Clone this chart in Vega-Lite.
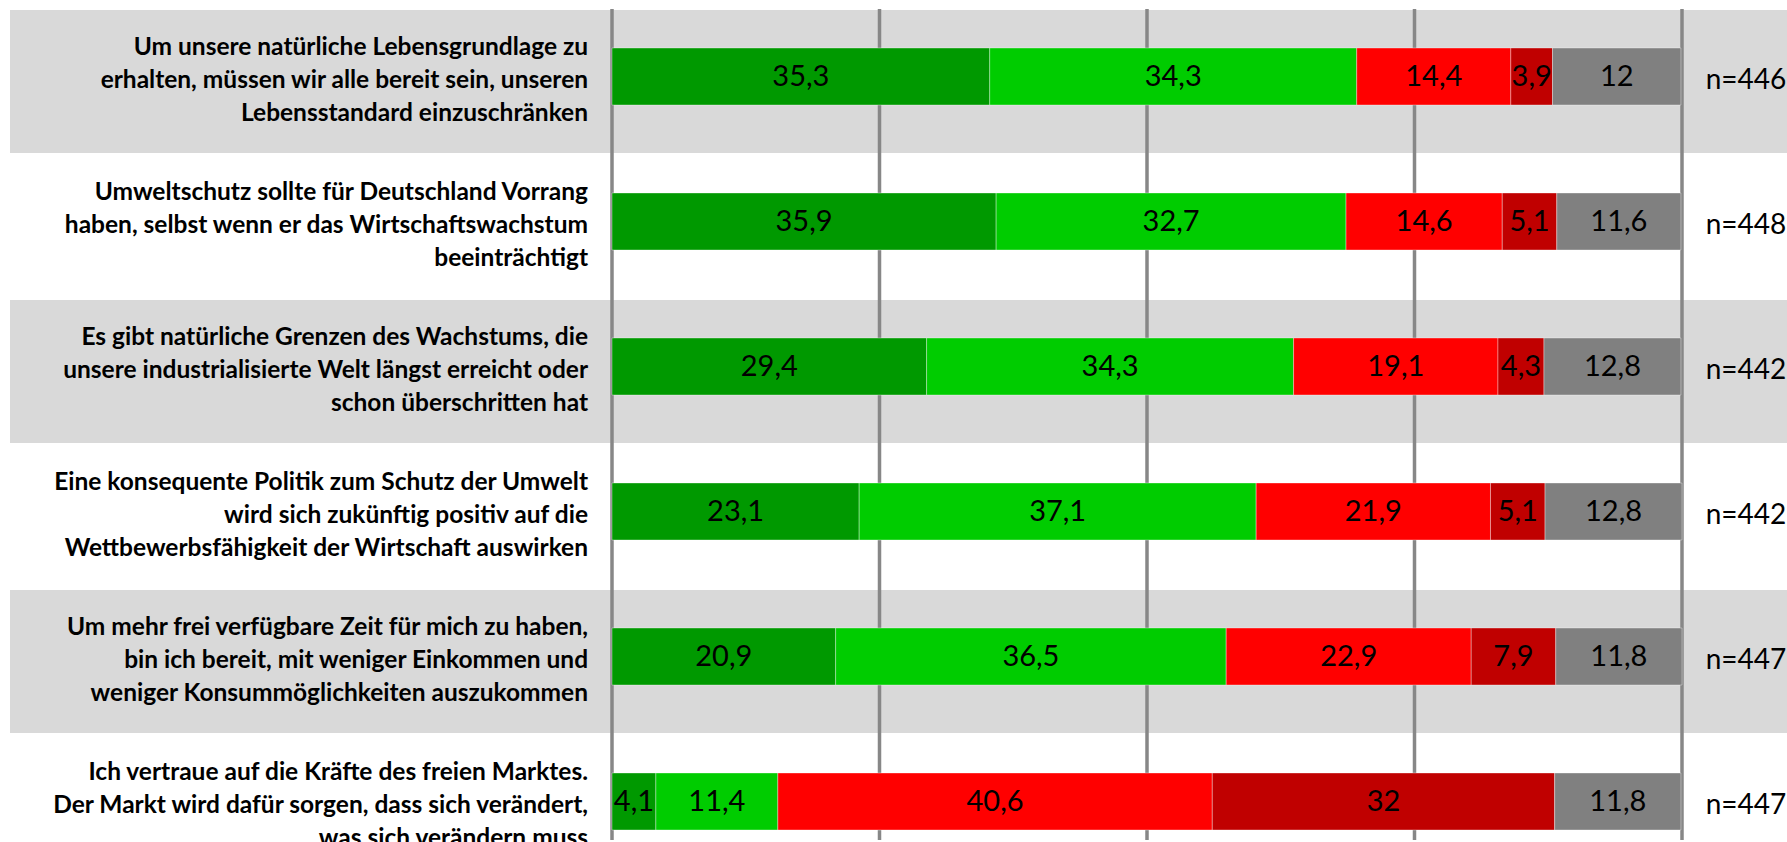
{
  "$schema": "https://vega.github.io/schema/vega-lite/v6.json",
  "width": 1787,
  "height": 842,
  "autosize": {"type": "fit", "contains": "padding"},
  "padding": {"top": 7, "left": 0, "right": 0, "bottom": 0},
  "background": "white",
  "config": {
    "view": {"stroke": null},
    "font": "Lato",
    "locale": {"number": {"decimal": ",", "thousands": ".", "grouping": [3], "currency": ["", " €"]}}
  },
  "datasets": {
    "rows": [
      {"q": "Q1", "i": 1, "n": "n=446", "label": "Um unsere natürliche Lebensgrundlage zu\nerhalten, müssen wir alle bereit sein, unseren\nLebensstandard einzuschränken"},
      {"q": "Q2", "i": 2, "n": "n=448", "label": "Umweltschutz sollte für Deutschland Vorrang\nhaben, selbst wenn er das Wirtschaftswachstum\nbeeinträchtigt"},
      {"q": "Q3", "i": 3, "n": "n=442", "label": "Es gibt natürliche Grenzen des Wachstums, die\nunsere industrialisierte Welt längst erreicht oder\nschon überschritten hat"},
      {"q": "Q4", "i": 4, "n": "n=442", "label": "Eine konsequente Politik zum Schutz der Umwelt\nwird sich zukünftig positiv auf die\nWettbewerbsfähigkeit der Wirtschaft auswirken"},
      {"q": "Q5", "i": 5, "n": "n=447", "label": "Um mehr frei verfügbare Zeit für mich zu haben,\nbin ich bereit, mit weniger Einkommen und\nweniger Konsummöglichkeiten auszukommen"},
      {"q": "Q6", "i": 6, "n": "n=447", "label": "Ich vertraue auf die Kräfte des freien Marktes.\nDer Markt wird dafür sorgen, dass sich verändert,\nwas sich verändern muss"}
    ],
    "shares": [
      {"q": "Q1", "k": 1, "cat": "stimme voll zu", "v": 35.3},
      {"q": "Q1", "k": 2, "cat": "stimme eher zu", "v": 34.3},
      {"q": "Q1", "k": 3, "cat": "stimme eher nicht zu", "v": 14.4},
      {"q": "Q1", "k": 4, "cat": "stimme gar nicht zu", "v": 3.9},
      {"q": "Q1", "k": 5, "cat": "weiß nicht", "v": 12},
      {"q": "Q2", "k": 1, "cat": "stimme voll zu", "v": 35.9},
      {"q": "Q2", "k": 2, "cat": "stimme eher zu", "v": 32.7},
      {"q": "Q2", "k": 3, "cat": "stimme eher nicht zu", "v": 14.6},
      {"q": "Q2", "k": 4, "cat": "stimme gar nicht zu", "v": 5.1},
      {"q": "Q2", "k": 5, "cat": "weiß nicht", "v": 11.6},
      {"q": "Q3", "k": 1, "cat": "stimme voll zu", "v": 29.4},
      {"q": "Q3", "k": 2, "cat": "stimme eher zu", "v": 34.3},
      {"q": "Q3", "k": 3, "cat": "stimme eher nicht zu", "v": 19.1},
      {"q": "Q3", "k": 4, "cat": "stimme gar nicht zu", "v": 4.3},
      {"q": "Q3", "k": 5, "cat": "weiß nicht", "v": 12.8},
      {"q": "Q4", "k": 1, "cat": "stimme voll zu", "v": 23.1},
      {"q": "Q4", "k": 2, "cat": "stimme eher zu", "v": 37.1},
      {"q": "Q4", "k": 3, "cat": "stimme eher nicht zu", "v": 21.9},
      {"q": "Q4", "k": 4, "cat": "stimme gar nicht zu", "v": 5.1},
      {"q": "Q4", "k": 5, "cat": "weiß nicht", "v": 12.8},
      {"q": "Q5", "k": 1, "cat": "stimme voll zu", "v": 20.9},
      {"q": "Q5", "k": 2, "cat": "stimme eher zu", "v": 36.5},
      {"q": "Q5", "k": 3, "cat": "stimme eher nicht zu", "v": 22.9},
      {"q": "Q5", "k": 4, "cat": "stimme gar nicht zu", "v": 7.9},
      {"q": "Q5", "k": 5, "cat": "weiß nicht", "v": 11.8},
      {"q": "Q6", "k": 1, "cat": "stimme voll zu", "v": 4.1},
      {"q": "Q6", "k": 2, "cat": "stimme eher zu", "v": 11.4},
      {"q": "Q6", "k": 3, "cat": "stimme eher nicht zu", "v": 40.6},
      {"q": "Q6", "k": 4, "cat": "stimme gar nicht zu", "v": 32},
      {"q": "Q6", "k": 5, "cat": "weiß nicht", "v": 11.8}
    ],
    "grid": [{"g": 0}, {"g": 25}, {"g": 50}, {"g": 75}, {"g": 100}]
  },
  "layer": [
    {
      "data": {"name": "rows"},
      "transform": [{"filter": "datum.i % 2 == 1"}],
      "mark": {"type": "bar", "color": "#D9D9D9", "height": {"band": 0.986}, "yOffset": -1},
      "encoding": {
        "y": {"field": "q", "type": "nominal", "axis": null, "sort": null,
              "scale": {"domain": ["Q1", "Q2", "Q3", "Q4", "Q5", "Q6"], "range": [1, 871], "paddingInner": 0, "paddingOuter": 0}},
        "x": {"datum": -56.26, "type": "quantitative", "axis": null,
              "scale": {"domain": [0, 100], "range": [612, 1682], "zero": false, "nice": false}},
        "x2": {"datum": 109.9}
      }
    },
    {
      "data": {"name": "grid"},
      "mark": {"type": "rule", "color": "#878787", "strokeWidth": 3.5},
      "encoding": {
        "x": {"field": "g", "type": "quantitative", "axis": null}
      }
    },
    {
      "data": {"name": "shares"},
      "mark": {"type": "bar", "height": {"band": 0.393}, "yOffset": -6, "stroke": "#ffffff", "strokeWidth": 1, "strokeOpacity": 0.35},
      "encoding": {
        "y": {"field": "q", "type": "nominal", "axis": null, "sort": null},
        "x": {"field": "v", "type": "quantitative", "stack": "zero", "axis": null},
        "color": {"field": "cat", "type": "nominal", "legend": null,
                  "scale": {"domain": ["stimme voll zu", "stimme eher zu", "stimme eher nicht zu", "stimme gar nicht zu", "weiß nicht"],
                            "range": ["#009900", "#00CC00", "#FF0000", "#C00000", "#808080"]}},
        "order": {"field": "k", "type": "quantitative"}
      }
    },
    {
      "data": {"name": "shares"},
      "mark": {"type": "text", "fontSize": 29, "yOffset": -6, "baseline": "middle", "align": "center", "color": "#000000"},
      "encoding": {
        "y": {"field": "q", "type": "nominal", "axis": null, "sort": null},
        "x": {"field": "v", "type": "quantitative", "stack": "zero", "bandPosition": 0.5, "axis": null},
        "detail": {"field": "cat", "type": "nominal"},
        "order": {"field": "k", "type": "quantitative"},
        "text": {"field": "v", "type": "quantitative", "format": ".1~f"}
      }
    },
    {
      "data": {"name": "rows"},
      "mark": {"type": "text", "align": "right", "baseline": "middle", "fontSize": 24.5, "fontWeight": "bold", "lineBreak": "\n", "lineHeight": 33, "dy": -35, "color": "#000000"},
      "encoding": {
        "y": {"field": "q", "type": "nominal", "axis": null, "sort": null},
        "x": {"datum": -2.24, "type": "quantitative"},
        "text": {"field": "label", "type": "nominal"}
      }
    },
    {
      "data": {"name": "rows"},
      "mark": {"type": "text", "align": "center", "baseline": "middle", "fontSize": 28, "yOffset": -2, "color": "#000000"},
      "encoding": {
        "y": {"field": "q", "type": "nominal", "axis": null, "sort": null},
        "x": {"datum": 105.98, "type": "quantitative"},
        "text": {"field": "n", "type": "nominal"}
      }
    }
  ]
}
